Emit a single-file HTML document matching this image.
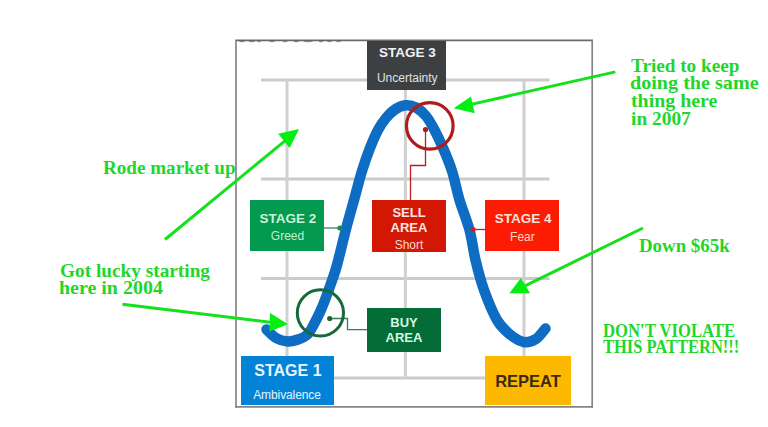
<!DOCTYPE html>
<html><head><meta charset="utf-8">
<style>
html,body{margin:0;padding:0;background:#fff;}
body{width:768px;height:427px;position:relative;overflow:hidden;font-family:"Liberation Sans",sans-serif;}
.a{position:absolute;}
.box{position:absolute;color:#fff;text-align:center;font-family:"Liberation Sans",sans-serif;}
.b{font-weight:bold;}
.g{position:absolute;font-family:"Liberation Serif",serif;font-weight:bold;color:#1fd62a;white-space:nowrap;transform-origin:0 0;}
svg{position:absolute;left:0;top:0;}
</style></head><body>
<svg width="768" height="427" viewBox="0 0 768 427">
 <!-- frame -->
 <g stroke-width="1.7" fill="none">
  <line x1="235.2" y1="40.4" x2="593" y2="40.4" stroke="#6a6a6a"/>
  <line x1="236" y1="40.4" x2="236" y2="407.7" stroke="#858585"/>
  <line x1="592.2" y1="40.4" x2="592.2" y2="407.7" stroke="#858585"/>
  <line x1="235.2" y1="406.9" x2="593" y2="406.9" stroke="#858585"/>
 </g>
 <g fill="#2d5f86" opacity="0.6">
  <ellipse cx="242.0" cy="41.3" rx="3.0" ry="0.9"/>
  <ellipse cx="251.8" cy="41.3" rx="3.2" ry="0.9"/>
  <ellipse cx="259.0" cy="41.3" rx="2.0" ry="0.9"/>
  <ellipse cx="272.0" cy="41.3" rx="3.0" ry="0.9"/>
  <ellipse cx="285.2" cy="41.3" rx="2.5" ry="0.9"/>
  <ellipse cx="296.4" cy="41.3" rx="2.9" ry="0.9"/>
  <ellipse cx="308.1" cy="41.3" rx="4.6" ry="0.9"/>
  <ellipse cx="321.0" cy="41.3" rx="2.5" ry="0.9"/>
  <ellipse cx="329.5" cy="41.3" rx="2.5" ry="0.9"/>
  <ellipse cx="338.5" cy="41.3" rx="2.5" ry="0.9"/>
 </g>
 <!-- grid -->
 <g stroke="#cbcbcb" stroke-width="3" fill="none">
  <line x1="261" y1="80" x2="549.5" y2="80"/>
  <line x1="261" y1="179" x2="549.5" y2="179"/>
  <line x1="261" y1="278.5" x2="549.5" y2="278.5"/>
  <line x1="261" y1="378" x2="549.5" y2="378"/>
  <line x1="287" y1="80" x2="287" y2="378" stroke="#d0d0d0"/>
  <line x1="405.4" y1="80" x2="405.4" y2="378" stroke="#d0d0d0"/>
  <line x1="524" y1="80" x2="524" y2="378" stroke="#d0d0d0"/>
 </g>
</svg>
<!-- boxes -->
<div class="box" style="left:367.3px;top:40.8px;width:79.2px;height:48.8px;background:#3c4043;"></div>
<div class="box" style="left:250px;top:200px;width:74px;height:51px;background:#03994e;"></div>
<div class="box" style="left:372px;top:200px;width:74px;height:52px;background:#d21804;"></div>
<div class="box" style="left:485px;top:200px;width:74px;height:51px;background:#fc1c03;"></div>
<div class="box" style="left:367px;top:307.5px;width:74px;height:44px;background:#046c36;"></div>
<div class="box" style="left:240.5px;top:356px;width:93px;height:49px;background:#0283d8;"></div>
<div class="box" style="left:485px;top:356px;width:86px;height:49px;background:#fdb900;"></div>

<svg width="768" height="427" viewBox="0 0 768 427">
 <!-- connectors -->
 <g fill="none" stroke-width="1.3">
  <polyline points="324,228 340,228" stroke="#2a8a55"/>
  <polyline points="473,229.5 485,229.5" stroke="#c81a10"/>
  <polyline points="425.5,129.5 425.5,165.5 410.5,165.5 410.5,200" stroke="#b52020"/>
  <polyline points="329.7,318.5 347.5,318.5 347.5,329.7 367,329.7" stroke="#3d7a55"/>
 </g>
 <!-- curve -->
 <path d="M 266.5 329.5 C 268.1 330.9 272.5 336.0 276.0 338.0 C 279.5 340.0 283.8 341.2 287.5 341.5 C 291.2 341.8 294.7 340.7 298.0 339.5 C 301.3 338.3 304.9 336.9 307.5 334.5 C 310.1 332.1 311.4 328.8 313.5 325.0 C 315.6 321.2 318.1 316.2 320.0 312.0 C 321.9 307.8 323.1 305.0 325.0 300.0 C 326.9 295.0 329.5 287.8 331.5 282.0 C 333.5 276.2 334.6 273.8 337.0 265.0 C 339.4 256.2 343.2 239.8 346.0 229.0 C 348.8 218.2 351.3 209.7 354.0 200.0 C 356.7 190.3 359.3 179.7 362.0 171.0 C 364.7 162.3 367.3 154.8 370.0 148.0 C 372.7 141.2 375.3 135.0 378.0 130.0 C 380.7 125.0 383.2 121.4 386.0 118.0 C 388.8 114.6 391.8 111.6 395.0 109.5 C 398.2 107.4 401.9 105.6 405.4 105.3 C 408.9 105.0 412.6 105.7 416.0 107.5 C 419.4 109.3 423.0 112.4 426.0 116.0 C 429.0 119.6 431.1 123.5 434.0 129.0 C 436.9 134.5 440.5 142.0 443.5 149.0 C 446.5 156.0 449.3 162.5 452.0 171.0 C 454.7 179.5 456.6 190.2 459.5 200.0 C 462.4 209.8 466.8 220.0 469.5 230.0 C 472.2 240.0 473.1 250.0 475.5 260.0 C 477.9 270.0 480.4 280.0 484.0 290.0 C 487.6 300.0 492.7 312.6 497.0 320.0 C 501.3 327.4 505.6 330.8 510.0 334.5 C 514.5 338.2 519.4 341.2 523.7 342.0 C 528.0 342.8 532.4 341.2 536.0 339.0 C 539.6 336.8 543.9 330.2 545.5 328.5" fill="none" stroke="#0e6cc3" stroke-width="10.5" stroke-linecap="round"/>
 <!-- dots -->
 <circle cx="340" cy="228" r="2.6" fill="#1f8a50"/>
 <circle cx="473" cy="229.5" r="2.6" fill="#d0201a"/>
 <!-- circles -->
 <circle cx="429.8" cy="125.9" r="23.3" fill="none" stroke="#b01b1b" stroke-width="3.2"/>
 <circle cx="425.5" cy="129.5" r="2.6" fill="#b31c1c"/>
 <circle cx="320.4" cy="312.9" r="23.1" fill="none" stroke="#17683a" stroke-width="3"/>
 <circle cx="329.7" cy="318.5" r="2.6" fill="#17683a"/>
</svg>

<!-- box text -->
<div class="box b" style="left:367.7px;top:46.4px;width:79.5px;font-size:13.5px;line-height:13.5px;color:#f2f2f2;">STAGE 3</div>
<div class="box" style="left:367.5px;top:71.7px;width:79.5px;font-size:12px;line-height:12px;color:#e0e0e0;">Uncertainty</div>
<div class="box b" style="left:251px;top:212.1px;width:74px;font-size:13.5px;line-height:13.5px;color:#c8f5da;">STAGE 2</div>
<div class="box" style="left:250.5px;top:229.5px;width:74px;font-size:12px;line-height:12px;color:#c0f0d4;">Greed</div>
<div class="box b" style="left:372px;top:206.0px;width:74px;font-size:13px;line-height:13px;color:#fbe6e2;">SELL</div>
<div class="box b" style="left:372px;top:221.0px;width:74px;font-size:13px;line-height:13px;color:#fbe6e2;">AREA</div>
<div class="box" style="left:372px;top:239.1px;width:74px;font-size:12px;line-height:12px;color:#f6d8d2;">Short</div>
<div class="box b" style="left:486.2px;top:212.2px;width:74px;font-size:13.5px;line-height:13.5px;color:#fde2dc;">STAGE 4</div>
<div class="box" style="left:485.4px;top:230.9px;width:74px;font-size:12px;line-height:12px;color:#fdd8d0;">Fear</div>
<div class="box b" style="left:367px;top:316.3px;width:74px;font-size:13px;line-height:13px;color:#d8f6e0;">BUY</div>
<div class="box b" style="left:367px;top:330.9px;width:74px;font-size:13px;line-height:13px;color:#d8f6e0;">AREA</div>
<div class="box b" style="left:241.4px;top:362.6px;width:93px;font-size:16px;line-height:16px;color:#e6f4ff;">STAGE 1</div>
<div class="box" style="left:240.5px;top:388.8px;width:93px;font-size:12px;line-height:12px;color:#e6f4ff;letter-spacing:-0.1px;">Ambivalence</div>
<div class="box b" style="left:485px;top:373.1px;width:86px;font-size:16.5px;line-height:16.5px;color:#3a2a12;">REPEAT</div>

<svg width="768" height="427" viewBox="0 0 768 427">
 <g stroke="#14e01c" stroke-width="3" fill="none" stroke-linecap="butt">
  <line x1="165" y1="239.5" x2="285" y2="140.8"/>
  <line x1="615.3" y1="71.9" x2="470" y2="104.6"/>
  <line x1="122.5" y1="304.3" x2="270" y2="322.2"/>
  <line x1="643" y1="228" x2="525.5" y2="285.6"/>
 </g>
 <g fill="#05ee12">
  <polygon points="299,129 278.2,133.7 289.7,148"/>
  <polygon points="453.7,108.3 471,96.6 474.7,113.2"/>
  <polygon points="288,324.2 270.1,313.1 269.4,331.4"/>
  <polygon points="509.4,293.3 520.8,277.9 530.2,293.3"/>
 </g>
</svg>

<!-- green annotations -->
<div class="g" style="left:103.20px;top:157.59px;font-size:19.0px;line-height:19.0px;transform:scaleX(1.0046);">Rode market up</div>
<div class="g" style="left:631.40px;top:56.09px;font-size:19.0px;line-height:19.0px;transform:scaleX(1.0104);">Tried to keep</div>
<div class="g" style="left:630.40px;top:73.49px;font-size:19.0px;line-height:19.0px;transform:scaleX(1.0595);">doing the same</div>
<div class="g" style="left:631.40px;top:91.29px;font-size:19.0px;line-height:19.0px;transform:scaleX(1.0464);">thing here</div>
<div class="g" style="left:631.40px;top:109.09px;font-size:19.0px;line-height:19.0px;transform:scaleX(1.0208);">in 2007</div>
<div class="g" style="left:59.60px;top:260.79px;font-size:19.0px;line-height:19.0px;transform:scaleX(1.0150);">Got lucky starting</div>
<div class="g" style="left:59.20px;top:278.49px;font-size:19.0px;line-height:19.0px;transform:scaleX(1.0510);">here in 2004</div>
<div class="g" style="left:638.60px;top:236.19px;font-size:19.0px;line-height:19.0px;transform:scaleX(0.9924);">Down $65k</div>
<div class="g" style="left:602.60px;top:320.99px;font-size:19.0px;line-height:19.0px;transform:scaleX(0.8779);">DON'T VIOLATE</div>
<div class="g" style="left:603.20px;top:337.29px;font-size:19.0px;line-height:19.0px;transform:scaleX(0.8672);">THIS PATTERN!!!</div>
</body></html>
